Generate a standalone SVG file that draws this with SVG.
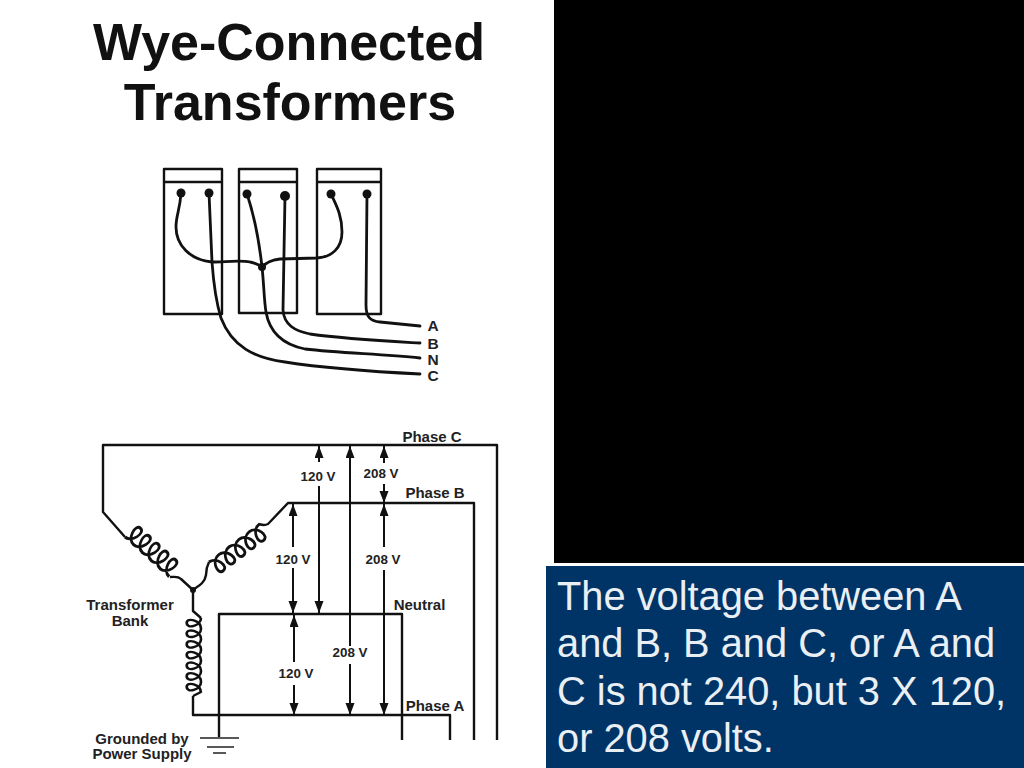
<svg xmlns="http://www.w3.org/2000/svg" width="1024" height="768" viewBox="0 0 1024 768">
<style>
.w{fill:none;stroke:#111;stroke-width:2.8;stroke-linecap:round;stroke-linejoin:round}
.l{fill:none;stroke:#111;stroke-width:2.4;stroke-linejoin:round}
.a{fill:none;stroke:#111;stroke-width:2;marker-end:url(#h)}
.b{fill:none;stroke:#222;stroke-width:1.6}
.c{fill:none;stroke:#111;stroke-width:2.4;vector-effect:non-scaling-stroke}
text{font-family:"Liberation Sans",Arial,sans-serif}
.t{font-weight:700;font-size:52px;fill:#111;text-anchor:middle}
.s{font-weight:700;font-size:15px;fill:#222;text-anchor:middle}
.v{font-weight:700;font-size:13.4px;fill:#222;text-anchor:middle}
.n{font-size:39.8px;fill:#eaeff4}
</style>
<defs>
<marker id="h" markerUnits="userSpaceOnUse" markerWidth="13" markerHeight="12" refX="12" refY="4.5" orient="auto"><path d="M0,0L12,4.5L0,9z" fill="#111"/></marker>
<path id="p5" d="M0,0c8,0 12,-13 5,-13c-6,0 -3,13 6,13c8,0 12,-13 5,-13c-6,0 -3,13 6,13c8,0 12,-13 5,-13c-6,0 -3,13 6,13c8,0 12,-13 5,-13c-6,0 -3,13 6,13c8,0 12,-13 5,-13c-6,0 -3,13 6,13"/>
<path id="p7" d="M0,0c8,0 12,-13 5,-13c-6,0 -3,13 6,13c8,0 12,-13 5,-13c-6,0 -3,13 6,13c8,0 12,-13 5,-13c-6,0 -3,13 6,13c8,0 12,-13 5,-13c-6,0 -3,13 6,13c8,0 12,-13 5,-13c-6,0 -3,13 6,13c8,0 12,-13 5,-13c-6,0 -3,13 6,13c8,0 12,-13 5,-13c-6,0 -3,13 6,13"/>
</defs>
<rect width="1024" height="768" fill="#fff"/>
<rect x="554" width="470" height="563" fill="#000"/>
<rect x="546" y="566" width="478" height="202" fill="#003366"/>

<g id="title">
<text class="t" x="289" y="60">Wye-Connected</text>
<text class="t" x="290" y="120">Transformers</text>
</g>

<g id="transformer-1"><path class="l" d="M164,169H222V314H164zM164,182H222"/><circle cx="181" cy="193" r="4.5" fill="#111"/><circle cx="209" cy="193" r="4.5" fill="#111"/></g>
<g id="transformer-2"><path class="l" d="M239,169H297V313H239zM239,182H297"/><circle cx="247" cy="194" r="4.5" fill="#111"/><circle cx="285" cy="196" r="5" fill="#111"/></g>
<g id="transformer-3"><path class="l" d="M317,169H381V314H317zM317,182H381"/><circle cx="331" cy="194" r="4.5" fill="#111"/><circle cx="367" cy="194" r="4.5" fill="#111"/></g>

<g id="wires">
<path class="w" d="M181,193C180,210 176,215 176,227C176,245 190,260 212,262C225,262 240,260 250,262C256,263 259,265 262,267"/>
<path class="w" d="M262,267C266,263 270,260 280,259L317,258C332,257 342,248 342,232C342,215 336,205 331,194"/>
<path class="w" d="M209,193L212,262C214,290 217,305 221,318C232,347 255,358 285,362C330,369 380,372 420,374"/>
<path class="w" d="M247,194C254,215 259,240 262,267C264,285 264,300 266,312C270,335 285,345 305,349C340,353 380,354 420,358"/>
<path class="w" d="M285,196L283,310C284,325 295,331 310,334C345,339 385,341 420,343"/>
<path class="w" d="M367,194L366,305C366,317 370,321 380,322L420,326"/>
<circle cx="262" cy="267" r="4" fill="#111"/>
</g>
<g id="wire-labels">
<text class="s" x="433" y="331" style="font-size:15.5px">A</text>
<text class="s" x="433" y="349" style="font-size:15.5px">B</text>
<text class="s" x="433" y="365" style="font-size:15.5px">N</text>
<text class="s" x="433" y="381" style="font-size:15.5px">C</text>
</g>

<g id="connectors">
<path class="l" d="M125,537L103,512V445H497V740"/>
<path class="l" d="M450,740V715H193V696"/>
<path class="l" d="M474,740V503H288L268,524C264,526 262,525 259,524"/>
<path class="l" d="M402,740V614H219V737"/>
<path class="l" d="M193,590V611L201,618"/>
<path class="l" d="M170,577C175,577 178,576 181,579L193,590C200,585 205,582 206,575C206,570 207,566 209,562"/>
<path class="l" d="M201,692L193,696"/>
<path class="a" d="M319,462V446"/><path class="a" d="M319,486V613"/>
<path class="a" d="M350,646V446"/><path class="a" d="M350,664V715"/>
<path class="a" d="M384,463V446"/><path class="a" d="M384,484V503"/>
<path class="a" d="M384,547V504"/><path class="a" d="M384,570V715"/>
<path class="a" d="M293,547V504"/><path class="a" d="M293,568V613"/>
<path class="a" d="M294,662V615"/><path class="a" d="M294,685V715"/>
<circle cx="193" cy="590" r="3" fill="#111"/>
</g>

<g id="transformer-bank">
<use href="#p5" class="c" transform="translate(125,537) rotate(42) scale(1.08,1.3)"/>
<use href="#p5" class="c" transform="translate(209,562) rotate(-37) scale(1.15,-1.2)"/>
<use href="#p7" class="c" transform="translate(201,618) rotate(90) scale(0.97,-1.1)"/>
<text class="s" x="130" y="610">Transformer</text>
<text class="s" x="130" y="626">Bank</text>
</g>

<g id="ground">
<path class="b" d="M200,738H239M207,747H234M213,753H226"/>
<text class="s" x="142" y="744">Grounded by</text>
<text class="s" x="142" y="759">Power Supply</text>
</g>

<g id="labels">
<text class="s" x="432" y="442">Phase C</text>
<text class="s" x="435" y="498">Phase B</text>
<text class="s" x="419.5" y="610">Neutral</text>
<text class="s" x="435" y="711">Phase A</text>
<text class="v" x="318" y="481">120 V</text>
<text class="v" x="381" y="478">208 V</text>
<text class="v" x="293" y="564">120 V</text>
<text class="v" x="383" y="564">208 V</text>
<text class="v" x="350" y="657">208 V</text>
<text class="v" x="296" y="678">120 V</text>
</g>

<g id="note">
<text class="n" x="557" y="610">The voltage between A</text>
<text class="n" x="557" y="657">and B, B and C, or A and</text>
<text class="n" x="557" y="705">C is not 240, but 3 X 120,</text>
<text class="n" x="557" y="752">or 208 volts.</text>
</g>
</svg>
